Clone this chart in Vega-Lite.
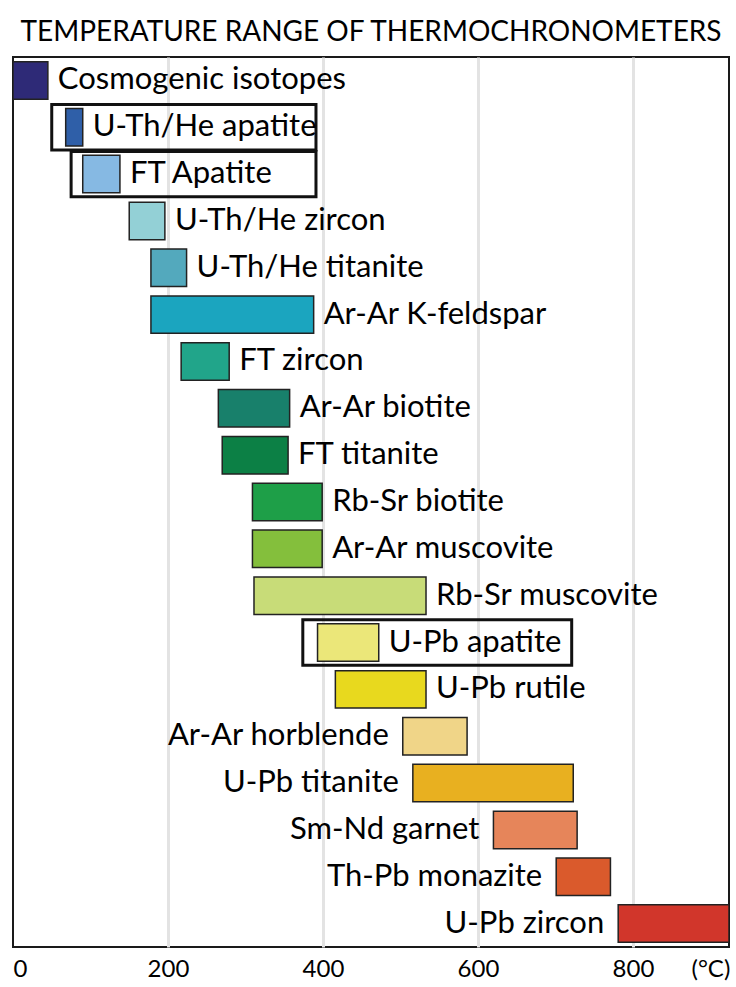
{
  "$schema": "https://vega.github.io/schema/vega-lite/v6.json",
  "width": 716,
  "height": 890,
  "autosize": {"type": "none"},
  "padding": {"left": 13, "top": 57, "right": 7, "bottom": 40},
  "background": "white",
  "config": {"view": {"stroke": "#1a1a1a", "strokeWidth": 2}, "font": "Lato"},
  "title": {"text": "TEMPERATURE RANGE OF THERMOCHRONOMETERS", "fontSize": 28, "font": "Lato", "fontWeight": "normal", "anchor": "middle", "frame": "group", "baseline": "alphabetic", "offset": 20, "dy": 32, "color": "black"},
  "datasets": {
    "ranges": [
      {"name": "Cosmogenic isotopes", "lo": 0, "hi": 45},
      {"name": "U-Th/He apatite", "lo": 68, "hi": 90},
      {"name": "FT Apatite", "lo": 90, "hi": 138},
      {"name": "U-Th/He zircon", "lo": 150, "hi": 196},
      {"name": "U-Th/He titanite", "lo": 178, "hi": 224},
      {"name": "Ar-Ar K-feldspar", "lo": 178, "hi": 388},
      {"name": "FT zircon", "lo": 217, "hi": 279},
      {"name": "Ar-Ar biotite", "lo": 265, "hi": 357},
      {"name": "FT titanite", "lo": 270, "hi": 355},
      {"name": "Rb-Sr biotite", "lo": 309, "hi": 399},
      {"name": "Ar-Ar muscovite", "lo": 309, "hi": 399},
      {"name": "Rb-Sr muscovite", "lo": 311, "hi": 533},
      {"name": "U-Pb apatite", "lo": 393, "hi": 472},
      {"name": "U-Pb rutile", "lo": 416, "hi": 533},
      {"name": "Ar-Ar horblende", "lo": 503, "hi": 586},
      {"name": "U-Pb titanite", "lo": 516, "hi": 723},
      {"name": "Sm-Nd garnet", "lo": 620, "hi": 728},
      {"name": "Th-Pb monazite", "lo": 701, "hi": 771},
      {"name": "U-Pb zircon", "lo": 781, "hi": 924}
    ],
    "boxes": [
      {"name": "U-Th/He apatite", "lo": 50, "hi": 391},
      {"name": "FT Apatite", "lo": 75, "hi": 391},
      {"name": "U-Pb apatite", "lo": 374, "hi": 721}
    ]
  },
  "encoding": {
    "y": {
      "field": "name",
      "type": "nominal",
      "scale": {
        "domain": ["Cosmogenic isotopes", "U-Th/He apatite", "FT Apatite", "U-Th/He zircon", "U-Th/He titanite", "Ar-Ar K-feldspar", "FT zircon", "Ar-Ar biotite", "FT titanite", "Rb-Sr biotite", "Ar-Ar muscovite", "Rb-Sr muscovite", "U-Pb apatite", "U-Pb rutile", "Ar-Ar horblende", "U-Pb titanite", "Sm-Nd garnet", "Th-Pb monazite", "U-Pb zircon"],
        "paddingInner": 0.2,
        "paddingOuter": 0.1
      },
      "axis": null
    }
  },
  "layer": [
    {
      "data": {"name": "ranges"},
      "mark": {"type": "bar", "stroke": "#222222", "strokeWidth": 1.5, "clip": true},
      "encoding": {
        "x": {
          "field": "lo",
          "type": "quantitative",
          "title": null,
          "scale": {"domain": [0, 924], "nice": false, "zero": false},
          "axis": {
            "values": [0, 200, 400, 600, 800, 900],
            "labelExpr": "datum.value == 900 ? '(°C)' : datum.label",
            "labelFontSize": 24,
            "labelFont": "Lato",
            "labelColor": "black",
            "labelFlush": true,
            "labelPadding": 10,
            "ticks": false,
            "domain": false,
            "grid": true,
            "gridColor": "#e3e3e3",
            "gridWidth": 3,
            "gridOpacity": {"condition": {"test": "datum.value == 900 || datum.value == 0", "value": 0}, "value": 1}
          }
        },
        "x2": {"field": "hi"},
        "color": {
          "field": "name",
          "type": "nominal",
          "legend": null,
          "scale": {
            "domain": ["Cosmogenic isotopes", "U-Th/He apatite", "FT Apatite", "U-Th/He zircon", "U-Th/He titanite", "Ar-Ar K-feldspar", "FT zircon", "Ar-Ar biotite", "FT titanite", "Rb-Sr biotite", "Ar-Ar muscovite", "Rb-Sr muscovite", "U-Pb apatite", "U-Pb rutile", "Ar-Ar horblende", "U-Pb titanite", "Sm-Nd garnet", "Th-Pb monazite", "U-Pb zircon"],
            "range": ["#2e2a77", "#2f5fa8", "#86b9e3", "#93d0d6", "#53a9bd", "#1ba5bf", "#21a58a", "#18806b", "#0c8045", "#1e9f48", "#84bf3c", "#c8dc78", "#ebe779", "#e8d91e", "#f0d588", "#e8b020", "#e6855a", "#da5a2c", "#d1362b"]
          }
        }
      }
    },
    {
      "data": {"name": "boxes"},
      "mark": {"type": "bar", "fill": null, "fillOpacity": 0, "stroke": "#111111", "strokeWidth": 3, "height": {"band": 1.21}},
      "encoding": {
        "x": {"field": "lo", "type": "quantitative", "title": null},
        "x2": {"field": "hi"}
      }
    },
    {
      "data": {"name": "ranges"},
      "transform": [{"filter": "datum.hi < 560"}],
      "mark": {"type": "text", "align": "left", "baseline": "middle", "dx": 10, "fontSize": 31, "font": "Lato", "color": "black"},
      "encoding": {
        "x": {"field": "hi", "type": "quantitative", "title": null},
        "text": {"field": "name"}
      }
    },
    {
      "data": {"name": "ranges"},
      "transform": [{"filter": "datum.hi >= 560"}],
      "mark": {"type": "text", "align": "right", "baseline": "middle", "dx": -14, "fontSize": 31, "font": "Lato", "color": "black"},
      "encoding": {
        "x": {"field": "lo", "type": "quantitative", "title": null},
        "text": {"field": "name"}
      }
    }
  ]
}
